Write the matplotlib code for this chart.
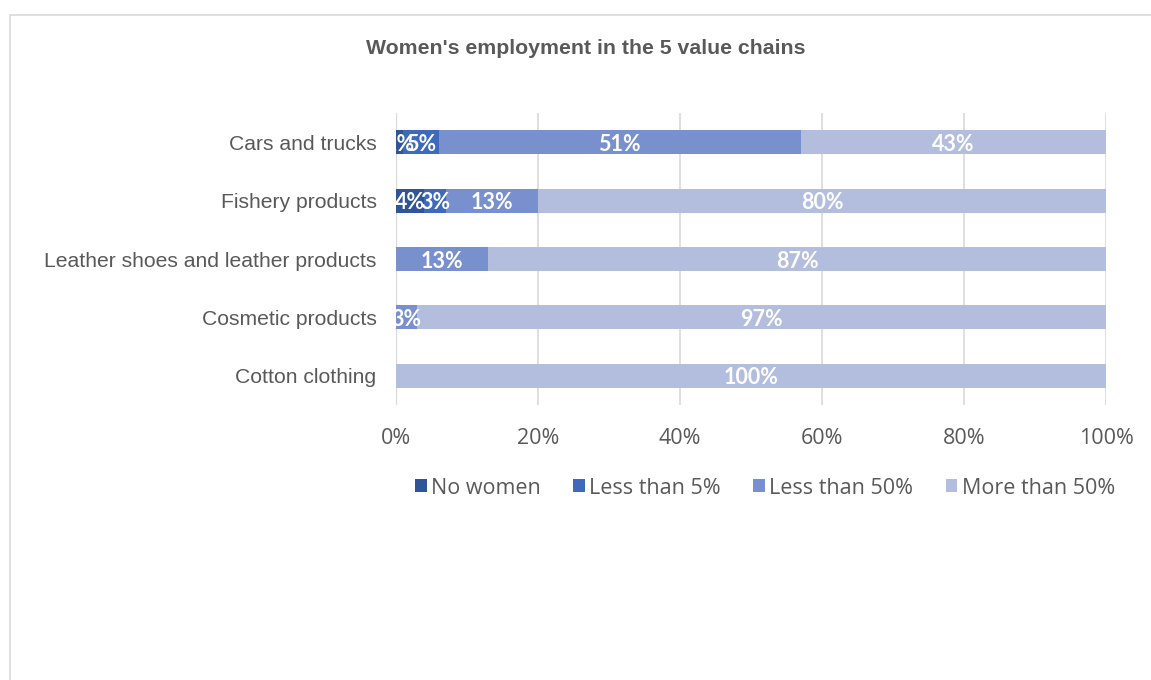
import matplotlib
matplotlib.use("Agg")
import matplotlib.pyplot as plt
from matplotlib.patches import Rectangle

categories = ["Cars and trucks", "Fishery products", "Leather shoes and leather products",
              "Cosmetic products", "Cotton clothing"]
series_names = ["No women", "Less than 5%", "Less than 50%", "More than 50%"]
no_women = [1, 4, 0, 0, 0]
less_5 = [5, 3, 0, 0, 0]
less_50 = [51, 13, 13, 3, 0]
more_50 = [43, 80, 87, 97, 100]
series_values = [no_women, less_5, less_50, more_50]
colors = ["#2F5597", "#3F69BA", "#7990CF", "#B3BEDF"]
xticks = [0, 20, 40, 60, 80, 100]
xtick_labels = ["0%", "20%", "40%", "60%", "80%", "100%"]
title = "Women's employment in the 5 value chains"

W, H = 1151, 680
fig = plt.figure(figsize=(W / 100, H / 100), dpi=100)
fig.patch.set_facecolor("white")

# outer chart border
fig.add_artist(Rectangle((10 / W, -0.05), 1.2, 1 - 15 / H + 0.05, transform=fig.transFigure,
                         fill=False, edgecolor="#D9D9D9", linewidth=1.2))

ax = fig.add_axes([396 / W, 1 - 405 / H, (1106 - 396) / W, (405 - 113) / H])
ax.set_xlim(0, 100)
ax.set_ylim(len(categories) - 0.5, -0.5)

ypos = list(range(len(categories)))
left = [0] * len(categories)
for name, vals, col in zip(series_names, series_values, colors):
    ax.barh(ypos, vals, left=left, height=0.41, color=col, label=name, zorder=3)
    for y, v, l in zip(ypos, vals, left):
        if v > 0:
            ax.text(l + v / 2, y, f"{v}%", ha="center", va="center_baseline", color="white",
                    fontsize=15.5, fontweight="bold", family=["Lato", "DejaVu Sans"], zorder=4)
    left = [a + b for a, b in zip(left, vals)]

ax.set_xticks(xticks)
ax.set_xticklabels(xtick_labels, family=["Open Sans", "DejaVu Sans"], fontsize=15.5, color="#595959")
ax.set_yticks(ypos)
ax.set_yticklabels(categories, family=["Liberation Sans", "DejaVu Sans"], fontsize=15.2, color="#595959")
ax.tick_params(axis="both", length=0)
ax.tick_params(axis="x", pad=16.5)
ax.tick_params(axis="y", pad=14)
ax.grid(axis="x", color="#D9D9D9", linewidth=1.2, zorder=0)
for s in ax.spines.values():
    s.set_visible(False)
ax.axvline(0, color="#D9D9D9", linewidth=1.6, zorder=1)

fig.text(586 / W, 1 - 48 / H, title, ha="center", va="center", fontsize=15.3,
         fontweight="bold", color="#595959", family=["Liberation Sans", "DejaVu Sans"])

leg = fig.legend(loc="center", bbox_to_anchor=(765 / W, 1 - 488 / H), ncol=4, frameon=False,
                 prop={"family": ["Open Sans", "DejaVu Sans"], "size": 15.5},
                 handlelength=0.55, handleheight=0.55, handletextpad=0.2, columnspacing=1.5)
for t in leg.get_texts():
    t.set_color("#595959")

fig.savefig("out.png", dpi=100)
